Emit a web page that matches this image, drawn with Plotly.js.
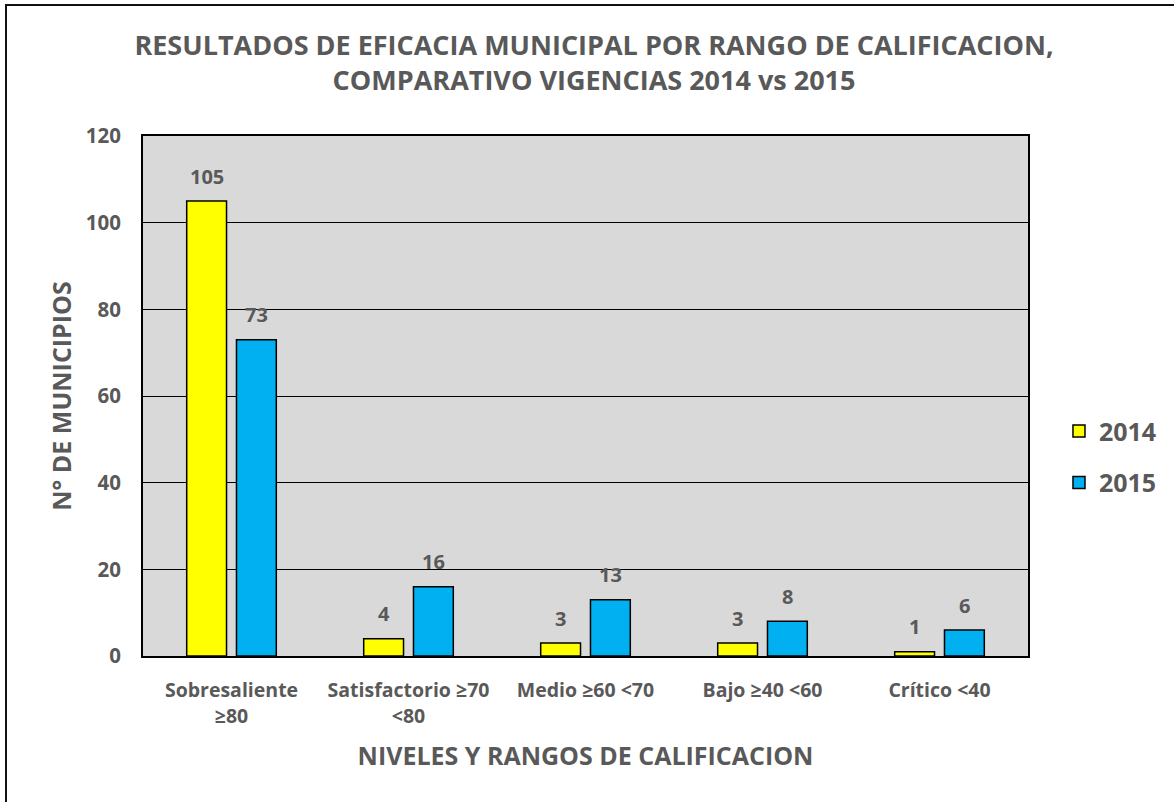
<!DOCTYPE html>
<html>
<head>
<meta charset="utf-8">
<script src="https://cdn.plot.ly/plotly-3.0.1.min.js"></script>
<style>
  html, body { margin: 0; padding: 0; background: #fff; overflow: hidden; }
  #chart { position: absolute; left: 0; top: 0; width: 1174px; height: 802px; }
  #frame { position: absolute; left: 5px; top: 4px; width: 1200px; height: 840px;
           border-left: 2px solid #111; border-top: 2px solid #111; pointer-events: none; }
</style>
</head>
<body>
<div id="chart"></div>
<div id="frame"></div>
<script>
const categories = [
  'Sobresaliente<br>≥80',
  'Satisfactorio ≥70<br>&lt;80',
  'Medio ≥60 &lt;70',
  'Bajo ≥40 &lt;60',
  'Crítico &lt;40'
];
const values2014 = [105, 4, 3, 3, 1];
const values2015 = [73, 16, 13, 8, 6];

const grey = '#595959';
const font = 'Open Sans, Liberation Sans, sans-serif';

function barTrace(name, values, color) {
  return {
    type: 'bar',
    name: name,
    legendgroup: name,
    x: categories,
    y: values,
    marker: { color: color, line: { color: '#000', width: 1.5 } },
    hoverinfo: 'none'
  };
}

// value labels sit well above each bar, as in the original
function labels(values, shift) {
  return values.map((v, i) => ({
    x: categories[i], y: v, xref: 'x', yref: 'y',
    text: String(v), showarrow: false,
    xshift: shift, yshift: 25,
    font: { family: font, size: 20, color: grey, weight: 'bold' }
  }));
}

const data = [
  barTrace('2014', values2014, '#ffff00'),
  barTrace('2015', values2015, '#00b0f0')
];

const layout = {
  width: 1174, height: 802,
  margin: { l: 143, r: 142, t: 136, b: 146 },
  paper_bgcolor: '#fff',
  plot_bgcolor: '#d9d9d9',
  barmode: 'group',
  bargap: 0.4376,
  bargroupgap: 0.2,
  font: { family: font, color: grey },
  title: {
    text: 'RESULTADOS DE EFICACIA MUNICIPAL POR RANGO DE CALIFICACION,<br>COMPARATIVO VIGENCIAS 2014 vs 2015',
    x: 0.506, xanchor: 'center', yref: 'container', y: 0.931, yanchor: 'top',
    font: { family: font, size: 27, color: grey, weight: 'bold' }
  },
  xaxis: {
    showline: true, linecolor: '#000', linewidth: 2, mirror: true,
    ticks: '', ticklabelstandoff: 16,
    tickfont: { family: font, size: 19.5, color: grey, weight: 'bold' },
    title: {
      text: 'NIVELES Y RANGOS DE CALIFICACION', standoff: 20,
      font: { family: font, size: 25, color: grey, weight: 'bold' }
    }
  },
  yaxis: {
    range: [0, 120], dtick: 20,
    showline: true, linecolor: '#000', linewidth: 2, mirror: true,
    showgrid: true, gridcolor: '#000', gridwidth: 1,
    zeroline: false,
    ticks: '', ticklabelstandoff: 16,
    tickfont: { family: font, size: 20.5, color: grey, weight: 'bold' },
    title: {
      text: 'N° DE MUNICIPIOS', standoff: 7,
      font: { family: font, size: 25, color: grey, weight: 'bold' }
    }
  },
  legend: {
    x: 1.035, xanchor: 'left', y: 0.383, yanchor: 'middle',
    traceorder: 'grouped', tracegroupgap: 16,
    font: { family: font, size: 25, color: grey, weight: 'bold' },
    itemwidth: 30
  },
  annotations: labels(values2014, -25).concat(labels(values2015, 25))
};

Plotly.newPlot('chart', data, layout, { displayModeBar: false, staticPlot: true });
</script>
</body>
</html>
